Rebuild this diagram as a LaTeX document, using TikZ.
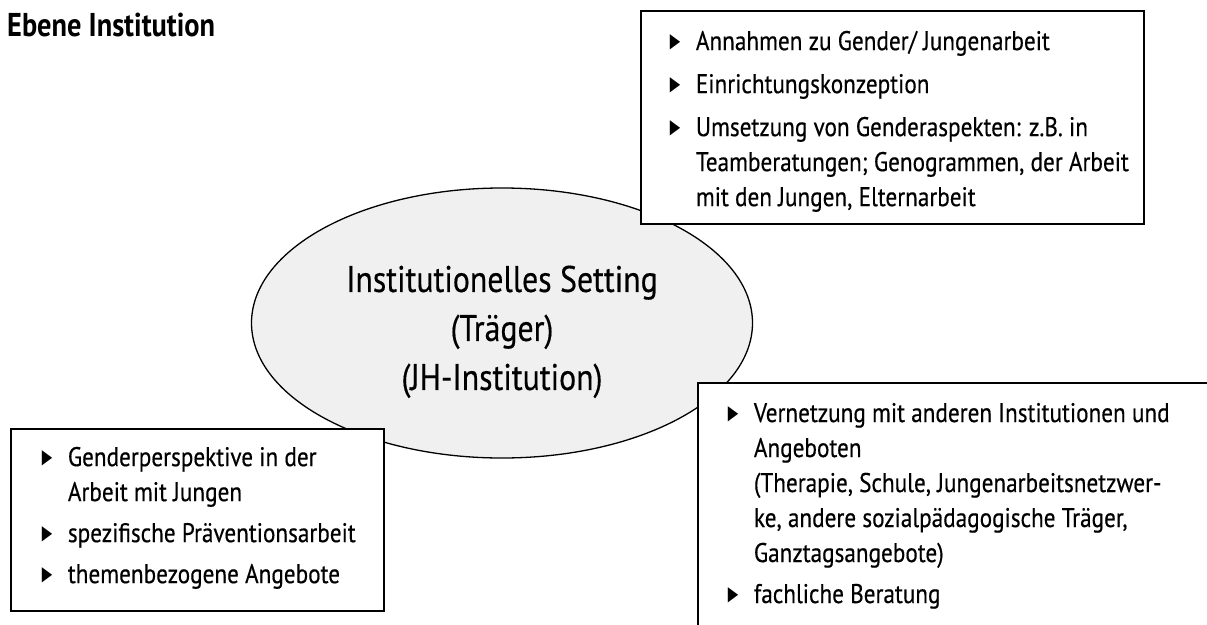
\documentclass[tikz,border=0pt]{standalone}
\usepackage{graphicx}
\usepackage{fontspec}
\setmainfont{PT Sans}[FakeStretch=0.86]
\newfontfamily\bodyfont{PT Sans}[FakeStretch=0.86, FakeBold=0.4]
\newfontfamily\symfont{DejaVu Sans}
\usetikzlibrary{shapes.geometric}
\newlength\bulletw
\setlength\bulletw{26pt}
\newcommand\tribullet{\makebox[\bulletw][l]{\raisebox{3pt}{\symfont\fontsize{20}{20}\selectfont\scalebox{0.68}[1]{▶}}}}
\newcommand\bitem[1]{\par\noindent\hangindent=\bulletw\hangafter=1\relax\tribullet#1\par}
\tikzset{
  infobox/.style={draw=black, line width=1.8pt, fill=white, inner sep=0pt, anchor=north west,
    font=\bodyfont\fontsize{27}{35}\selectfont},
  hub/.style={ellipse, draw=black, line width=1.3pt, fill=gray!12, minimum width=501pt,
    minimum height=270pt, align=center, font=\bodyfont\fontsize{37}{49}\selectfont},
  title/.style={anchor=base west, inner sep=0pt, font=\fontsize{33}{33}\selectfont\bfseries}
}
\begin{document}
\begin{tikzpicture}[x=1pt,y=-1pt]
\useasboundingbox (0,0) rectangle (1207,624);
\node[title] (title) at (7,36) {Ebene Institution};
\node[hub] (setting) at (502,323) {\rule{0pt}{44pt}Institutionelles Setting\\(Träger)\\(JH-Institution)};
\node[infobox] (annahmen) at (640,10) {\begin{minipage}[t][213pt][t]{503pt}\raggedright\leftskip=29pt\parskip=8pt
\vspace*{20pt}
\bitem{Annahmen zu Gender/ Jungenarbeit}
\bitem{Einrichtungskonzeption}
\bitem{Umsetzung von Genderaspekten: z.B. in\newline Teamberatungen; Genogrammen, der Arbeit\newline mit den Jungen, Elternarbeit}
\end{minipage}};
\node[infobox] (gender) at (10,428) {\begin{minipage}[t][182pt][t]{373pt}\raggedright\leftskip=31pt\parskip=6pt
\vspace*{18pt}
\bitem{Genderperspektive in der\newline Arbeit mit Jungen}
\bitem{spezifische Präventionsarbeit}
\bitem{themenbezogene Angebote}
\end{minipage}};
\node[infobox] (vernetzung) at (697,382) {\begin{minipage}[t][300pt][t]{560pt}\raggedright\leftskip=30pt\parskip=6pt
\vspace*{20pt}
\bitem{Vernetzung mit anderen Institutionen und\newline Angeboten\newline (Therapie, Schule, Jungenarbeitsnetzwer-\newline ke, andere sozialpädagogische Träger,\newline Ganztagsangebote)}
\bitem{fachliche Beratung}
\end{minipage}};
\end{tikzpicture}
\end{document}
